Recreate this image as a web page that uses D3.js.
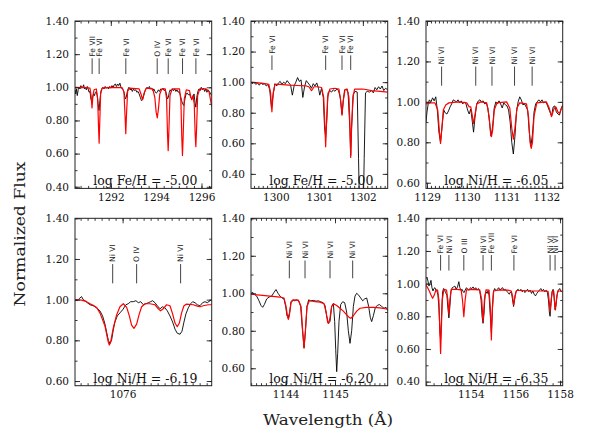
<!DOCTYPE html>
<html><head><meta charset="utf-8">
<script src="https://cdn.jsdelivr.net/npm/d3@7"></script>
<style>body{margin:0;background:#fff} svg{display:block}</style>
</head><body><svg id="c" width="612" height="447"></svg>
<script>
// ---------------- DATA ----------------
// Panel 1 : Fe, 1290-1296 A
const p1XDomain = [1290.42, 1296.45], p1YDomain = [0.39, 1.40];
const p1XTicks = [1292, 1294, 1296], p1YTicks = [0.40, 0.60, 0.80, 1.00, 1.20, 1.40];
const p1Label = "log Fe/H = -5.00";
const p1Lines = [[1291.176,"Fe VII"],[1291.485,"Fe VI"],[1292.662,"Fe VI"],[1294.046,"O IV"],[1294.531,"Fe VI"],[1295.164,"Fe VI"],[1295.753,"Fe VI"]];
const p1Obs = [[1290.42,0.985],[1290.45,0.96],[1290.48,0.99],[1290.52,0.95],[1290.56,0.985],[1290.6,1.0],[1290.64,0.99],[1290.68,1.01],[1290.72,0.995],[1290.76,1.0],[1290.8,1.015],[1290.84,0.99],[1290.88,1.0],[1290.92,0.985],[1290.96,1.005],[1291.0,0.99],[1291.04,0.97],[1291.08,0.975],[1291.12,0.93],[1291.16,0.915],[1291.2,0.94],[1291.24,0.96],[1291.28,0.95],[1291.32,0.97],[1291.36,0.975],[1291.4,0.95],[1291.44,0.9],[1291.48,0.86],[1291.52,0.92],[1291.56,0.975],[1291.6,0.99],[1291.65,1.0],[1291.7,0.99],[1291.75,1.005],[1291.8,0.995],[1291.85,1.0],[1291.9,0.99],[1291.95,1.005],[1292.0,0.995],[1292.05,1.01],[1292.1,1.0],[1292.15,1.015],[1292.2,1.02],[1292.25,1.005],[1292.3,1.02],[1292.35,1.01],[1292.4,1.025],[1292.45,1.0],[1292.5,0.99],[1292.55,0.985],[1292.6,0.96],[1292.64,0.93],[1292.68,0.94],[1292.72,0.97],[1292.76,0.99],[1292.8,1.0],[1292.85,0.985],[1292.9,0.99],[1292.95,0.975],[1293.0,0.99],[1293.05,0.98],[1293.1,0.985],[1293.15,0.97],[1293.2,0.975],[1293.25,0.96],[1293.3,0.94],[1293.35,0.92],[1293.4,0.925],[1293.45,0.95],[1293.5,0.975],[1293.55,0.99],[1293.6,1.0],[1293.65,0.99],[1293.7,1.005],[1293.75,0.99],[1293.8,0.995],[1293.85,0.98],[1293.9,0.99],[1293.95,0.975],[1294.0,0.965],[1294.05,0.97],[1294.1,0.985],[1294.15,0.975],[1294.2,0.99],[1294.25,0.985],[1294.3,0.995],[1294.35,0.98],[1294.4,0.985],[1294.45,0.96],[1294.5,0.93],[1294.54,0.94],[1294.58,0.97],[1294.62,0.985],[1294.67,0.975],[1294.72,0.99],[1294.77,0.98],[1294.82,0.99],[1294.87,0.975],[1294.92,0.985],[1294.97,0.97],[1295.02,0.975],[1295.07,0.95],[1295.12,0.92],[1295.17,0.9],[1295.22,0.89],[1295.27,0.93],[1295.32,0.96],[1295.37,0.965],[1295.42,0.955],[1295.47,0.96],[1295.52,0.94],[1295.57,0.93],[1295.62,0.935],[1295.67,0.96],[1295.72,0.9],[1295.75,0.88],[1295.79,0.94],[1295.84,0.975],[1295.89,0.99],[1295.94,0.98],[1295.99,1.0],[1296.04,0.985],[1296.09,0.995],[1296.14,0.975],[1296.19,0.99],[1296.24,0.97],[1296.29,0.985],[1296.34,0.975],[1296.39,0.965],[1296.45,0.95]];
const p1Model = [[1290.42,1.0],[1290.9,0.998],[1291.08,0.995],[1291.13,0.95],[1291.17,0.875],[1291.21,0.95],[1291.26,0.985],[1291.36,0.99],[1291.42,0.93],[1291.46,0.75],[1291.485,0.663],[1291.51,0.78],[1291.55,0.96],[1291.62,0.995],[1292.0,1.0],[1292.5,0.998],[1292.58,0.97],[1292.63,0.82],[1292.66,0.72],[1292.69,0.83],[1292.74,0.975],[1292.82,0.995],[1293.25,0.99],[1293.33,0.96],[1293.40,0.925],[1293.47,0.965],[1293.56,0.995],[1293.85,0.99],[1293.94,0.94],[1294.0,0.85],[1294.05,0.815],[1294.10,0.87],[1294.16,0.96],[1294.25,0.99],[1294.40,0.99],[1294.46,0.93],[1294.50,0.72],[1294.53,0.618],[1294.56,0.73],[1294.61,0.95],[1294.7,0.99],[1295.03,0.99],[1295.09,0.92],[1295.13,0.70],[1295.16,0.588],[1295.19,0.70],[1295.24,0.93],[1295.33,0.985],[1295.47,0.98],[1295.53,0.94],[1295.57,0.925],[1295.62,0.95],[1295.68,0.90],[1295.72,0.72],[1295.75,0.642],[1295.78,0.74],[1295.83,0.95],[1295.92,0.99],[1296.2,0.99],[1296.33,0.975],[1296.45,0.885]];

// Panel 2 : Fe, 1299.5-1302.5 A
const p2XDomain = [1299.43, 1302.57], p2YDomain = [0.305, 1.40];
const p2XTicks = [1300, 1301, 1302], p2YTicks = [0.40, 0.60, 0.80, 1.00, 1.20, 1.40];
const p2Label = "log Fe/H = -5.00";
const p2Lines = [[1299.911,"Fe VI"],[1301.145,"Fe VI"],[1301.520,"Fe VI"],[1301.720,"Fe VI"]];
const p2Obs = [[1299.43,1.0],[1299.46,0.99],[1299.5,1.0],[1299.54,0.985],[1299.58,0.995],[1299.62,0.98],[1299.66,0.995],[1299.7,0.985],[1299.74,0.99],[1299.78,0.975],[1299.82,0.985],[1299.86,0.95],[1299.9,0.83],[1299.94,0.92],[1299.98,0.99],[1300.02,0.975],[1300.06,0.995],[1300.1,1.005],[1300.14,0.985],[1300.18,1.0],[1300.22,0.99],[1300.26,1.01],[1300.3,0.995],[1300.34,0.98],[1300.38,0.915],[1300.42,0.975],[1300.46,1.0],[1300.5,1.03],[1300.54,1.005],[1300.58,1.015],[1300.62,0.9],[1300.66,0.97],[1300.7,1.01],[1300.74,0.995],[1300.78,0.98],[1300.82,0.96],[1300.86,0.99],[1300.9,0.975],[1300.94,0.995],[1300.98,0.96],[1301.01,0.915],[1301.05,0.96],[1301.09,0.9],[1301.12,0.7],[1301.145,0.64],[1301.17,0.75],[1301.2,0.93],[1301.24,0.945],[1301.28,0.935],[1301.32,0.95],[1301.36,0.94],[1301.4,0.955],[1301.44,0.945],[1301.48,0.9],[1301.52,0.79],[1301.55,0.88],[1301.58,0.95],[1301.62,0.955],[1301.66,0.93],[1301.7,0.7],[1301.72,0.52],[1301.74,0.7],[1301.78,0.92],[1301.82,0.94],[1301.87,0.935],[1301.9,0.5],[1301.92,0.2],[1302.01,0.2],[1302.03,0.5],[1302.06,0.93],[1302.1,0.94],[1302.15,0.935],[1302.2,0.945],[1302.24,0.93],[1302.28,0.965],[1302.32,0.95],[1302.36,0.97],[1302.4,0.955],[1302.44,0.975],[1302.48,0.945],[1302.52,0.96],[1302.57,0.95]];
const p2Model = [[1299.43,1.0],[1299.6,0.995],[1299.75,0.99],[1299.84,0.985],[1299.88,0.93],[1299.91,0.806],[1299.94,0.93],[1299.98,0.985],[1300.1,0.985],[1300.3,0.98],[1300.5,0.978],[1300.7,0.975],[1300.76,0.97],[1300.82,0.944],[1300.88,0.97],[1300.95,0.97],[1301.05,0.965],[1301.1,0.9],[1301.13,0.7],[1301.145,0.577],[1301.16,0.7],[1301.19,0.9],[1301.24,0.955],[1301.35,0.96],[1301.45,0.955],[1301.49,0.88],[1301.52,0.784],[1301.55,0.88],[1301.59,0.95],[1301.64,0.955],[1301.68,0.9],[1301.705,0.7],[1301.72,0.507],[1301.74,0.7],[1301.77,0.9],[1301.81,0.955],[1302.0,0.955],[1302.2,0.945],[1302.4,0.94],[1302.57,0.935]];

// Panel 3 : Ni, 1129-1132.4 A
const p3XDomain = [1128.975, 1132.41], p3YDomain = [0.572, 1.40];
const p3XTicks = [1129, 1130, 1131, 1132], p3YTicks = [0.60, 0.80, 1.00, 1.20, 1.40];
const p3Label = "log Ni/H = -6.05";
const p3Lines = [[1129.367,"Ni VI"],[1130.225,"Ni VI"],[1130.633,"Ni VI"],[1131.200,"Ni VI"],[1131.642,"Ni VI"]];
const p3Obs = [[1128.975,0.9],[1129.0,0.95],[1129.03,0.99],[1129.06,1.01],[1129.1,1.0],[1129.14,1.02],[1129.18,1.005],[1129.22,1.025],[1129.26,0.96],[1129.3,0.85],[1129.34,0.8],[1129.38,0.88],[1129.42,0.96],[1129.46,0.945],[1129.5,0.94],[1129.54,0.955],[1129.58,0.975],[1129.62,0.99],[1129.66,1.01],[1129.7,1.005],[1129.74,1.0],[1129.78,1.01],[1129.82,0.995],[1129.86,1.005],[1129.9,0.99],[1129.94,1.0],[1129.98,0.99],[1130.02,0.96],[1130.06,0.94],[1130.1,0.965],[1130.14,0.9],[1130.17,0.85],[1130.21,0.93],[1130.25,0.99],[1130.29,1.005],[1130.33,1.01],[1130.37,1.0],[1130.41,1.005],[1130.45,0.99],[1130.49,0.995],[1130.53,0.97],[1130.57,0.9],[1130.61,0.83],[1130.65,0.88],[1130.69,0.97],[1130.73,1.0],[1130.77,0.99],[1130.81,1.005],[1130.85,0.99],[1130.89,0.97],[1130.93,0.995],[1130.97,0.985],[1131.01,0.98],[1131.05,0.96],[1131.09,0.9],[1131.13,0.8],[1131.17,0.742],[1131.21,0.83],[1131.25,0.95],[1131.29,1.0],[1131.33,1.025],[1131.37,1.01],[1131.41,0.985],[1131.45,0.99],[1131.49,0.975],[1131.53,0.96],[1131.57,0.85],[1131.61,0.78],[1131.65,0.84],[1131.69,0.95],[1131.73,0.99],[1131.77,1.0],[1131.81,1.01],[1131.85,1.0],[1131.89,1.01],[1131.93,0.995],[1131.97,1.0],[1132.01,0.99],[1132.05,0.97],[1132.09,0.95],[1132.13,0.93],[1132.17,0.975],[1132.21,0.98],[1132.25,0.95],[1132.29,0.94],[1132.33,0.935],[1132.37,0.965],[1132.41,0.985]];
const p3Model = [[1128.975,0.99],[1129.1,0.995],[1129.2,0.995],[1129.27,0.96],[1129.31,0.86],[1129.34,0.794],[1129.37,0.86],[1129.41,0.96],[1129.47,0.985],[1129.55,0.995],[1129.8,1.0],[1130.0,0.995],[1130.06,0.975],[1130.1,0.975],[1130.14,0.93],[1130.17,0.893],[1130.2,0.93],[1130.25,0.99],[1130.35,1.0],[1130.5,0.995],[1130.56,0.93],[1130.6,0.84],[1130.62,0.828],[1130.65,0.86],[1130.69,0.96],[1130.76,0.995],[1131.0,1.0],[1131.08,0.97],[1131.13,0.87],[1131.17,0.815],[1131.21,0.87],[1131.26,0.97],[1131.33,0.995],[1131.5,0.99],[1131.55,0.93],[1131.59,0.8],[1131.62,0.77],[1131.65,0.8],[1131.69,0.93],[1131.76,0.995],[1132.0,1.0],[1132.07,0.97],[1132.13,0.927],[1132.19,0.965],[1132.24,0.975],[1132.29,0.95],[1132.33,0.943],[1132.38,0.97],[1132.41,0.98]];

// Panel 4 : Ni, around 1076 A
const p4XDomain = [1075.66, 1076.636], p4YDomain = [0.577, 1.40];
const p4XTicks = [1076], p4YTicks = [0.60, 0.80, 1.00, 1.20, 1.40];
const p4Label = "log Ni/H = -6.19";
const p4Lines = [[1075.929,"Ni VI"],[1076.100,"O IV"],[1076.414,"Ni VI"]];
const p4Obs = [[1075.660,1.0],[1075.676,0.995],[1075.690,1.005],[1075.707,1.015],[1075.719,1.0],[1075.731,0.995],[1075.748,0.985],[1075.767,0.975],[1075.790,0.97],[1075.814,0.96],[1075.838,0.945],[1075.857,0.92],[1075.874,0.88],[1075.886,0.84],[1075.898,0.8],[1075.910,0.785],[1075.921,0.8],[1075.933,0.85],[1075.945,0.89],[1075.962,0.92],[1075.981,0.935],[1076.000,0.95],[1076.024,0.975],[1076.040,0.98],[1076.057,0.99],[1076.076,0.99],[1076.095,0.995],[1076.112,0.985],[1076.129,0.99],[1076.148,0.975],[1076.167,0.98],[1076.183,0.985],[1076.200,0.99],[1076.214,0.995],[1076.231,0.985],[1076.248,0.97],[1076.267,0.955],[1076.283,0.965],[1076.302,0.96],[1076.319,0.945],[1076.338,0.92],[1076.357,0.89],[1076.374,0.855],[1076.390,0.835],[1076.410,0.83],[1076.424,0.845],[1076.438,0.89],[1076.452,0.93],[1076.469,0.96],[1076.486,0.98],[1076.500,0.99],[1076.517,0.985],[1076.533,0.975],[1076.552,0.97],[1076.571,0.985],[1076.588,0.99],[1076.605,0.985],[1076.624,0.995],[1076.636,1.0]];
const p4Model = [[1075.660,1.0],[1075.707,0.998],[1075.743,0.99],[1075.767,0.98],[1075.790,0.972],[1075.814,0.962],[1075.838,0.935],[1075.874,0.87],[1075.898,0.79],[1075.905,0.777],[1075.914,0.79],[1075.933,0.86],[1075.957,0.925],[1075.981,0.965],[1076.005,0.98],[1076.029,0.962],[1076.048,0.92],[1076.064,0.875],[1076.081,0.859],[1076.100,0.88],[1076.119,0.93],[1076.136,0.965],[1076.160,0.98],[1076.195,0.98],[1076.231,0.975],[1076.255,0.955],[1076.271,0.945],[1076.290,0.955],[1076.314,0.975],[1076.338,0.97],[1076.357,0.93],[1076.374,0.885],[1076.390,0.867],[1076.405,0.885],[1076.421,0.935],[1076.438,0.97],[1076.457,0.978],[1076.505,0.975],[1076.533,0.968],[1076.552,0.965],[1076.576,0.97],[1076.612,0.975],[1076.636,0.975]];

// Panel 5 : Ni, 1143.3-1146 A
const p5XDomain = [1143.297, 1146.068], p5YDomain = [0.507, 1.40];
const p5XTicks = [1144, 1145], p5YTicks = [0.60, 0.80, 1.00, 1.20, 1.40];
const p5Label = "log Ni/H = -6.20";
const p5Lines = [[1144.074,"Ni VI"],[1144.392,"Ni VI"],[1144.899,"Ni VI"],[1145.358,"Ni VI"]];
const p5Obs = [[1143.297,1.0],[1143.331,1.005],[1143.365,0.995],[1143.412,0.985],[1143.459,0.96],[1143.500,0.935],[1143.534,0.925],[1143.568,0.94],[1143.615,0.97],[1143.662,0.98],[1143.716,0.985],[1143.764,1.005],[1143.804,1.02],[1143.845,1.0],[1143.885,0.985],[1143.926,0.975],[1143.966,0.97],[1144.000,0.93],[1144.027,0.88],[1144.054,0.872],[1144.081,0.9],[1144.108,0.955],[1144.142,0.965],[1144.182,0.96],[1144.223,0.965],[1144.264,0.96],[1144.304,0.93],[1144.338,0.81],[1144.372,0.71],[1144.399,0.79],[1144.432,0.93],[1144.466,0.965],[1144.507,0.96],[1144.561,0.962],[1144.615,0.958],[1144.662,0.96],[1144.709,0.955],[1144.757,0.95],[1144.797,0.935],[1144.831,0.88],[1144.865,0.84],[1144.899,0.85],[1144.932,0.93],[1144.966,0.946],[1144.993,0.85],[1145.014,0.7],[1145.034,0.582],[1145.054,0.68],[1145.081,0.85],[1145.115,0.94],[1145.155,0.955],[1145.196,0.95],[1145.236,0.9],[1145.270,0.8],[1145.304,0.733],[1145.338,0.8],[1145.372,0.93],[1145.405,0.985],[1145.439,1.0],[1145.480,0.99],[1145.520,0.975],[1145.561,0.96],[1145.601,0.97],[1145.642,0.975],[1145.682,0.93],[1145.716,0.87],[1145.743,0.849],[1145.777,0.88],[1145.818,0.925],[1145.858,0.935],[1145.899,0.94],[1145.946,0.93],[1145.993,0.92],[1146.034,0.925],[1146.068,0.91]];
const p5Model = [[1143.297,0.995],[1143.480,0.99],[1143.682,0.985],[1143.885,0.98],[1143.966,0.975],[1144.007,0.93],[1144.041,0.87],[1144.054,0.861],[1144.074,0.88],[1144.108,0.95],[1144.155,0.965],[1144.257,0.963],[1144.311,0.93],[1144.345,0.8],[1144.372,0.707],[1144.399,0.8],[1144.432,0.93],[1144.480,0.96],[1144.595,0.955],[1144.696,0.953],[1144.777,0.945],[1144.818,0.9],[1144.851,0.845],[1144.872,0.84],[1144.899,0.87],[1144.932,0.93],[1144.980,0.943],[1145.034,0.935],[1145.101,0.92],[1145.169,0.905],[1145.236,0.885],[1145.291,0.87],[1145.324,0.867],[1145.372,0.88],[1145.439,0.905],[1145.507,0.92],[1145.642,0.925],[1145.777,0.925],[1145.912,0.922],[1146.068,0.915]];

// Panel 6 : Ni/Fe/O, 1152-1158 A
const p6XDomain = [1151.993, 1158.119], p6YDomain = [0.375, 1.40];
const p6XTicks = [1154, 1156, 1158], p6YTicks = [0.40, 0.60, 0.80, 1.00, 1.20, 1.40];
const p6Label = "log Ni/H = -6.35";
const p6Lines = [[1152.647,"Fe VI"],[1153.019,"Ni VI"],[1153.688,"O III"],[1154.550,"Ni VI"],[1154.922,"Fe VII"],[1155.933,"Fe VI"],[1157.554,"Ni VI"],[1157.777,"Ni VI"]];
const p6Obs = [[1151.993,1.03],[1152.037,1.04],[1152.082,1.015],[1152.126,0.985],[1152.171,1.0],[1152.216,1.02],[1152.260,0.975],[1152.305,0.955],[1152.349,0.97],[1152.394,0.975],[1152.439,0.96],[1152.483,0.955],[1152.528,0.93],[1152.572,0.85],[1152.617,0.7],[1152.647,0.66],[1152.691,0.8],[1152.736,0.95],[1152.781,0.97],[1152.825,0.96],[1152.870,0.945],[1152.929,0.93],[1152.974,0.85],[1153.019,0.79],[1153.063,0.86],[1153.108,0.95],[1153.167,0.975],[1153.227,0.98],[1153.286,0.985],[1153.346,0.965],[1153.405,0.98],[1153.465,1.012],[1153.509,0.975],[1153.554,0.96],[1153.613,0.965],[1153.658,0.95],[1153.703,0.945],[1153.747,0.96],[1153.807,0.975],[1153.866,0.965],[1153.926,0.96],[1153.985,0.975],[1154.045,0.97],[1154.104,0.98],[1154.164,0.965],[1154.223,0.975],[1154.283,0.96],[1154.342,0.97],[1154.401,0.955],[1154.461,0.9],[1154.506,0.8],[1154.550,0.757],[1154.595,0.82],[1154.639,0.93],[1154.684,0.95],[1154.729,0.94],[1154.773,0.955],[1154.818,0.93],[1154.877,0.8],[1154.922,0.7],[1154.967,0.83],[1155.011,0.95],[1155.071,0.97],[1155.130,0.955],[1155.190,0.965],[1155.249,0.975],[1155.309,0.96],[1155.368,0.97],[1155.428,0.975],[1155.487,0.96],[1155.546,0.965],[1155.606,0.955],[1155.665,0.945],[1155.725,0.935],[1155.784,0.95],[1155.829,0.94],[1155.874,0.9],[1155.918,0.86],[1155.963,0.9],[1156.007,0.945],[1156.067,0.96],[1156.126,0.965],[1156.186,0.955],[1156.245,0.965],[1156.305,0.95],[1156.364,0.96],[1156.424,0.945],[1156.483,0.955],[1156.543,0.965],[1156.602,0.95],[1156.662,0.96],[1156.721,0.94],[1156.781,0.955],[1156.840,0.935],[1156.900,0.925],[1156.959,0.94],[1157.019,0.95],[1157.078,0.96],[1157.138,0.97],[1157.197,0.955],[1157.257,0.965],[1157.316,0.95],[1157.375,0.96],[1157.435,0.945],[1157.480,0.9],[1157.524,0.82],[1157.554,0.8],[1157.599,0.88],[1157.643,0.95],[1157.688,0.965],[1157.732,0.92],[1157.777,0.84],[1157.822,0.87],[1157.866,0.93],[1157.926,0.96],[1157.985,0.97],[1158.045,0.95],[1158.119,0.955]];
const p6Model = [[1151.993,0.99],[1152.067,0.975],[1152.141,0.955],[1152.216,0.93],[1152.290,0.91],[1152.364,0.93],[1152.439,0.962],[1152.513,0.96],[1152.572,0.9],[1152.617,0.7],[1152.647,0.573],[1152.677,0.7],[1152.721,0.9],[1152.796,0.965],[1152.914,0.96],[1152.974,0.9],[1153.019,0.812],[1153.063,0.9],[1153.123,0.965],[1153.361,0.965],[1153.569,0.962],[1153.628,0.9],[1153.688,0.798],[1153.747,0.9],[1153.807,0.962],[1154.104,0.965],[1154.401,0.962],[1154.491,0.9],[1154.550,0.767],[1154.610,0.9],[1154.684,0.962],[1154.818,0.96],[1154.877,0.85],[1154.922,0.655],[1154.967,0.85],[1155.026,0.955],[1155.294,0.962],[1155.665,0.96],[1155.814,0.955],[1155.874,0.92],[1155.918,0.869],[1155.978,0.92],[1156.052,0.958],[1156.335,0.958],[1156.781,0.955],[1157.227,0.955],[1157.465,0.952],[1157.509,0.9],[1157.554,0.829],[1157.599,0.9],[1157.658,0.955],[1157.717,0.955],[1157.747,0.9],[1157.792,0.839],[1157.836,0.9],[1157.896,0.955],[1158.119,0.955]];

const xTitle = "Wavelength (Å)", yTitle = "Normalized Flux";
const markLow = 1.08, markHigh = 1.175, markText = 1.185;

// ---------------- LAYOUT ----------------
const colX = [75, 251, 426], rowY = [21, 218.3], W = 136.7, H = 167.4;
const panels = [
  {obs:p1Obs, model:p1Model, lines:p1Lines, label:p1Label, xd:p1XDomain, yd:p1YDomain, xt:p1XTicks, yt:p1YTicks, minor:1/3, c:0, r:0},
  {obs:p2Obs, model:p2Model, lines:p2Lines, label:p2Label, xd:p2XDomain, yd:p2YDomain, xt:p2XTicks, yt:p2YTicks, minor:0.1, c:1, r:0},
  {obs:p3Obs, model:p3Model, lines:p3Lines, label:p3Label, xd:p3XDomain, yd:p3YDomain, xt:p3XTicks, yt:p3YTicks, minor:0.1, c:2, r:0},
  {obs:p4Obs, model:p4Model, lines:p4Lines, label:p4Label, xd:p4XDomain, yd:p4YDomain, xt:p4XTicks, yt:p4YTicks, minor:0.05, c:0, r:1},
  {obs:p5Obs, model:p5Model, lines:p5Lines, label:p5Label, xd:p5XDomain, yd:p5YDomain, xt:p5XTicks, yt:p5YTicks, minor:0.1, c:1, r:1},
  {obs:p6Obs, model:p6Model, lines:p6Lines, label:p6Label, xd:p6XDomain, yd:p6YDomain, xt:p6XTicks, yt:p6YTicks, minor:1/3, c:2, r:1}
];
const FONT = "'DejaVu Serif', serif";
const svg = d3.select('#c');
const defs = svg.append('defs');

function minorTicks(d, step){
  const out = [];
  const k0 = Math.ceil(d[0]/step - 1e-6), k1 = Math.floor(d[1]/step + 1e-6);
  for (let k = k0; k <= k1; k++) out.push(+(k*step).toFixed(6));
  return out;
}
function styleAxis(g, labels){
  g.select('.domain').remove();
  g.selectAll('.tick line').attr('stroke','#222').attr('stroke-width',0.9);
  g.selectAll('.tick text').attr('fill','#111').style('font-family',FONT).style('font-size','10.5px');
  if(!labels) g.selectAll('.tick text').remove();
}

panels.forEach((p,i)=>{
  const x0 = colX[p.c], y0 = rowY[p.r];
  const x = d3.scaleLinear().domain(p.xd).range([x0, x0+W]);
  const y = d3.scaleLinear().domain(p.yd).range([y0+H, y0]);
  defs.append('clipPath').attr('id','clip'+i).append('rect')
     .attr('x',x0).attr('y',y0).attr('width',W).attr('height',H);
  const g = svg.append('g');
  const line = d3.line().x(d=>x(d[0])).y(d=>y(d[1]));

  // line identification marks
  const mk = g.append('g');
  p.lines.forEach(([w,name])=>{
    mk.append('line').attr('x1',x(w)).attr('x2',x(w)).attr('y1',y(markLow)).attr('y2',y(markHigh))
      .attr('stroke','#444').attr('stroke-width',1);
    mk.append('text').attr('transform',`translate(${x(w)},${y(markText)}) rotate(-90)`)
      .attr('dy','0.36em').attr('text-anchor','start')
      .style('font-family',"'DejaVu Sans', sans-serif").style('font-size','7.6px').attr('fill','#222')
      .text(name);
  });

  g.append('path').datum(p.obs).attr('d',line).attr('fill','none')
    .attr('stroke','#000').attr('stroke-width',0.9).attr('stroke-linejoin','round')
    .attr('clip-path',`url(#clip${i})`);
  g.append('path').datum(p.model).attr('d',line).attr('fill','none')
    .attr('stroke','#ff0000').attr('stroke-width',1.2).attr('stroke-linejoin','round')
    .attr('clip-path',`url(#clip${i})`);

  // axes
  const mx = minorTicks(p.xd, p.minor);
  const my = minorTicks(p.yd, 0.1);
  g.append('g').attr('transform',`translate(0,${y0+H})`)
    .call(d3.axisBottom(x).tickValues(p.xt).tickSize(-5).tickSizeOuter(0).tickPadding(5).tickFormat(d3.format('d')))
    .call(a=>styleAxis(a,true));
  g.append('g').attr('transform',`translate(0,${y0+H})`)
    .call(d3.axisBottom(x).tickValues(mx).tickSize(-2.5).tickSizeOuter(0))
    .call(a=>styleAxis(a,false));
  g.append('g').attr('transform',`translate(0,${y0})`)
    .call(d3.axisTop(x).tickValues(p.xt).tickSize(-5).tickSizeOuter(0))
    .call(a=>styleAxis(a,false));
  g.append('g').attr('transform',`translate(0,${y0})`)
    .call(d3.axisTop(x).tickValues(mx).tickSize(-2.5).tickSizeOuter(0))
    .call(a=>styleAxis(a,false));
  g.append('g').attr('transform',`translate(${x0},0)`)
    .call(d3.axisLeft(y).tickValues(p.yt).tickSize(-5).tickSizeOuter(0).tickPadding(6).tickFormat(d3.format('.2f')))
    .call(a=>styleAxis(a,true));
  g.append('g').attr('transform',`translate(${x0},0)`)
    .call(d3.axisLeft(y).tickValues(my).tickSize(-2.5).tickSizeOuter(0))
    .call(a=>styleAxis(a,false));
  g.append('g').attr('transform',`translate(${x0+W},0)`)
    .call(d3.axisRight(y).tickValues(p.yt).tickSize(-5).tickSizeOuter(0))
    .call(a=>styleAxis(a,false));
  g.append('g').attr('transform',`translate(${x0+W},0)`)
    .call(d3.axisRight(y).tickValues(my).tickSize(-2.5).tickSizeOuter(0))
    .call(a=>styleAxis(a,false));

  g.append('rect').attr('x',x0).attr('y',y0).attr('width',W).attr('height',H)
    .attr('fill','none').attr('stroke','#222').attr('stroke-width',1);

  g.append('text').attr('x',x0+W/2+2).attr('y',y0+H-3).attr('text-anchor','middle')
    .attr('textLength',104).attr('lengthAdjust','spacingAndGlyphs')
    .style('font-family',FONT).style('font-size','12.5px').attr('fill','#111')
    .text(p.label);
});

svg.append('text').attr('x',328).attr('y',425).attr('text-anchor','middle')
  .attr('textLength',130).attr('lengthAdjust','spacingAndGlyphs')
  .style('font-family',FONT).style('font-size','15px').attr('fill','#222').text(xTitle);
svg.append('text').attr('transform','translate(25,234) rotate(-90)').attr('text-anchor','middle')
  .attr('textLength',145).attr('lengthAdjust','spacingAndGlyphs')
  .style('font-family',FONT).style('font-size','15px').attr('fill','#222').text(yTitle);
</script></body></html>
